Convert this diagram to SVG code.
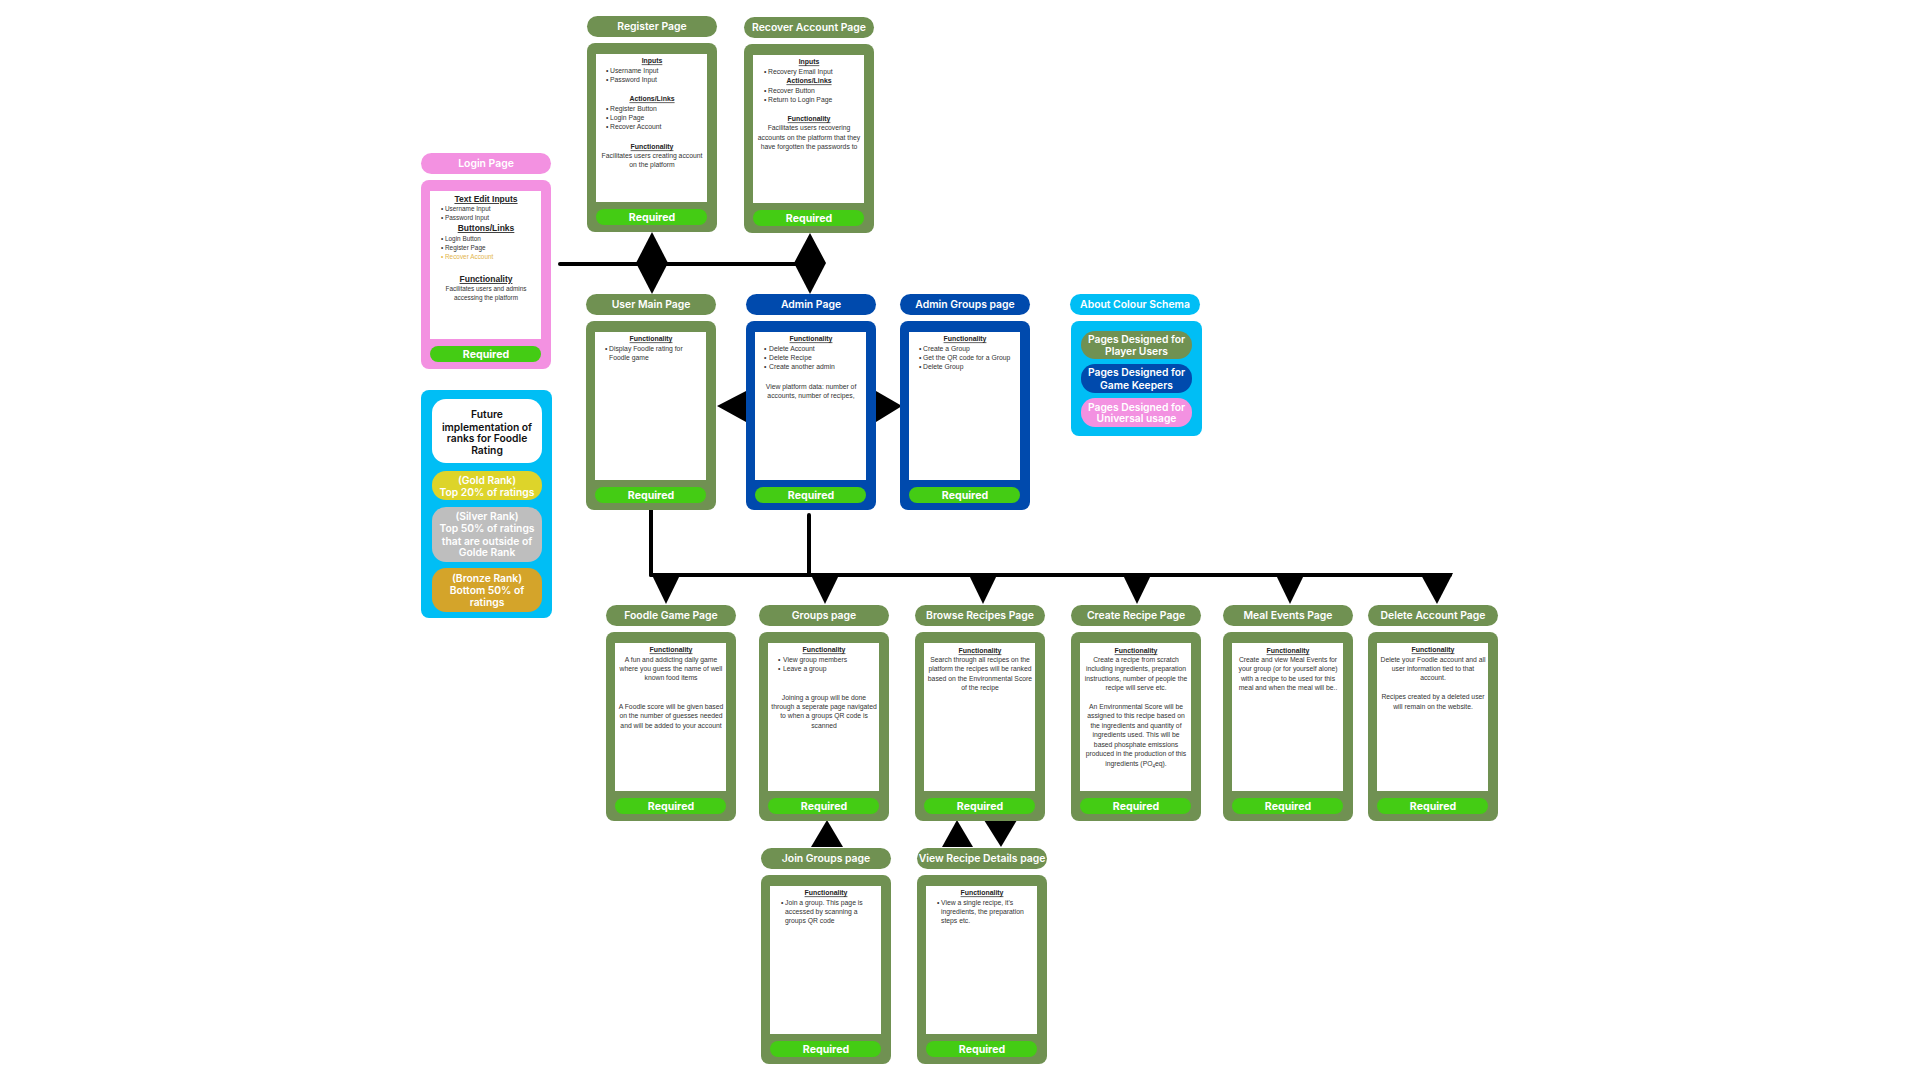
<svg xmlns="http://www.w3.org/2000/svg" xmlns:xlink="http://www.w3.org/1999/xlink" width="1920" height="1080" viewBox="0 0 1920 1080">
<style>
.g{fill:#709152}
.b{fill:#004AAD}
.p{fill:#F391E1}
.s{fill:#00BEF5}
.ttl{font-family:Inter,"Open Sans",sans-serif;font-weight:600;font-size:10.4px;fill:#fff;text-anchor:middle}
.rqt{font-family:Inter,"Open Sans",sans-serif;font-weight:700;font-size:10.6px;fill:#fff;text-anchor:middle}
.h{font-family:"Liberation Sans",Arial,sans-serif;font-weight:700;font-size:6.9px;fill:#222;text-anchor:middle;text-decoration:underline}
.t{font-family:"Liberation Sans",Arial,sans-serif;font-size:6.8px;fill:#333}
.m{text-anchor:middle}
.lh{font-size:8.5px}
.lt{font-size:6.4px}
.gold{fill:#E3B54C}
.chip{font-family:Inter,"Open Sans",sans-serif;font-weight:600;font-size:10.3px;fill:#fff;text-anchor:middle}
.dark{fill:#111}
.wire{stroke:#000;fill:none;stroke-width:4;stroke-linecap:round}
.head{fill:#000}
</style>
<defs>
  <!-- shared page frame: title pill, card, content area and the Required badge -->
  <g id="frame">
    <rect x="0" y="0" width="130" height="21" rx="10.5"/>
    <rect x="0" y="27" width="130" height="189" rx="8"/>
    <rect x="9" y="38" width="111" height="148" fill="#fff"/>
    <rect x="9" y="193" width="111" height="16" rx="8" fill="#44CC14"/>
    <text class="rqt" x="65" y="204.8">Required</text>
  </g>
</defs>
<rect width="1920" height="1080" fill="#fff"/>

<!-- connectors -->
<g id="connectors">
  <path class="wire" d="M560 264 H809"/>
  <polygon class="head" points="652,232 668,263 652,294 636,263"/>
  <polygon class="head" points="810,233 826,263 810,294 794,263"/>
  <polygon class="head" points="717,406 746,391 746,422"/>
  <polygon class="head" points="876,391 902,406 876,422"/>
  <path class="wire" d="M651 510 V575 M809 515 V575" stroke-linecap="butt"/>
  <path class="wire" d="M651 575 H1450" stroke-width="4.5" stroke-linecap="butt"/>
  <polygon class="head" points="651,573 681,573 666,604"/>
  <polygon class="head" points="810,573 840,573 825,604"/>
  <polygon class="head" points="968,573 998,573 983,604"/>
  <polygon class="head" points="1122,573 1152,573 1137,604"/>
  <polygon class="head" points="1275,573 1305,573 1290,604"/>
  <polygon class="head" points="1420,573 1453,573 1437,604"/>
  <polygon class="head" points="811,847 827,820 843,847"/>
  <polygon class="head" points="942,847 957,820 973,847"/>
  <polygon class="head" points="984,820 1017,820 1001,847"/>
</g>

<!-- Login Page -->
<g id="login-page" transform="translate(421,153)">
  <use xlink:href="#frame" class="p"/>
  <text class="ttl" x="65" y="14.1">Login Page</text>
  <text class="h lh" x="65" y="49">Text Edit Inputs</text>
  <text class="t lt" x="20" y="58.3">•<tspan x="24">Username Input</tspan></text>
  <text class="t lt" x="20" y="67.3">•<tspan x="24">Password Input</tspan></text>
  <text class="h lh" x="65" y="78">Buttons/Links</text>
  <text class="t lt" x="20" y="88.3">•<tspan x="24">Login Button</tspan></text>
  <text class="t lt" x="20" y="97.3">•<tspan x="24">Register Page</tspan></text>
  <text class="t lt gold" x="20" y="106.3">•<tspan x="24">Recover Account</tspan></text>
  <text class="h lh" x="65" y="129">Functionality</text>
  <text class="t lt m" x="65" y="138.3">Facilitates users and admins</text>
  <text class="t lt m" x="65" y="147.3">accessing the platform</text>
</g>

<!-- Register Page -->
<g id="register-page" transform="translate(587,16)">
  <use xlink:href="#frame" class="g"/>
  <text class="ttl" x="65" y="14.1">Register Page</text>
  <text class="h" x="65" y="47.4">Inputs</text>
  <text class="t" x="19" y="57.4">•<tspan x="23">Username Input</tspan></text>
  <text class="t" x="19" y="66.4">•<tspan x="23">Password Input</tspan></text>
  <text class="h" x="65" y="85.4">Actions/Links</text>
  <text class="t" x="19" y="95">•<tspan x="23">Register Button</tspan></text>
  <text class="t" x="19" y="104">•<tspan x="23">Login Page</tspan></text>
  <text class="t" x="19" y="113.4">•<tspan x="23">Recover Account</tspan></text>
  <text class="h" x="65" y="133.4">Functionality</text>
  <text class="t m" x="65" y="142.4">Facilitates users creating account</text>
  <text class="t m" x="65" y="151.4">on the platform</text>
</g>

<!-- Recover Account Page -->
<g id="recover-account-page" transform="translate(744,17)">
  <use xlink:href="#frame" class="g"/>
  <text class="ttl" x="65" y="14.1">Recover Account Page</text>
  <text class="h" x="65" y="47.4">Inputs</text>
  <text class="t" x="20" y="57.4">•<tspan x="24">Recovery Email Input</tspan></text>
  <text class="h" x="65" y="66.4">Actions/Links</text>
  <text class="t" x="20" y="76.4">•<tspan x="24">Recover Button</tspan></text>
  <text class="t" x="20" y="85.4">•<tspan x="24">Return to Login Page</tspan></text>
  <text class="h" x="65" y="104.4">Functionality</text>
  <text class="t m" x="65" y="113.4">Facilitates users recovering</text>
  <text class="t m" x="65" y="123.4">accounts on the platform that they</text>
  <text class="t m" x="65" y="132.4">have forgotten the passwords to</text>
</g>

<!-- User Main Page -->
<g id="user-main-page" transform="translate(586,294)">
  <use xlink:href="#frame" class="g"/>
  <text class="ttl" x="65" y="14.1">User Main Page</text>
  <text class="h" x="65" y="47.4">Functionality</text>
  <text class="t" x="19" y="57.1">•<tspan x="23">Display Foodle rating for</tspan></text>
  <text class="t" x="23" y="66.1">Foodle game</text>
</g>

<!-- Admin Page -->
<g id="admin-page" transform="translate(746,294)">
  <use xlink:href="#frame" class="b"/>
  <text class="ttl" x="65" y="14.1">Admin Page</text>
  <text class="h" x="65" y="47.4">Functionality</text>
  <text class="t" x="18" y="57.1">•<tspan x="23">Delete Account</tspan></text>
  <text class="t" x="18" y="66.1">•<tspan x="23">Delete Recipe</tspan></text>
  <text class="t" x="18" y="75.4">•<tspan x="23">Create another admin</tspan></text>
  <text class="t m" x="65" y="95.4">View platform data: number of</text>
  <text class="t m" x="65" y="104.4">accounts, number of recipes,</text>
</g>

<!-- Admin Groups page -->
<g id="admin-groups-page" transform="translate(900,294)">
  <use xlink:href="#frame" class="b"/>
  <text class="ttl" x="65" y="14.1">Admin Groups page</text>
  <text class="h" x="65" y="47.4">Functionality</text>
  <text class="t" x="19" y="57.1">•<tspan x="23">Create a Group</tspan></text>
  <text class="t" x="19" y="66.1">•<tspan x="23">Get the QR code for a Group</tspan></text>
  <text class="t" x="19" y="75.4">•<tspan x="23">Delete Group</tspan></text>
</g>

<!-- About Colour Schema -->
<g id="colour-schema" transform="translate(1070,294)">
  <rect class="s" x="0" y="0" width="130" height="21" rx="10.5"/>
  <text class="ttl" x="65" y="14.1">About Colour Schema</text>
  <rect class="s" x="1" y="27" width="131" height="115" rx="8"/>
  <rect class="g" x="11" y="37" width="111" height="28" rx="14"/>
  <text class="chip" x="66.5" y="48.6">Pages Designed for</text>
  <text class="chip" x="66.5" y="60.6">Player Users</text>
  <rect class="b" x="11" y="70" width="111" height="29" rx="14"/>
  <text class="chip" x="66.5" y="81.6">Pages Designed for</text>
  <text class="chip" x="66.5" y="94.6">Game Keepers</text>
  <rect class="p" x="11" y="104" width="111" height="29" rx="14"/>
  <text class="chip" x="66.5" y="116.6">Pages Designed for</text>
  <text class="chip" x="66.5" y="127.6">Universal usage</text>
</g>

<!-- Foodle rating ranks -->
<g id="rating-ranks" transform="translate(421,390)">
  <rect class="s" x="0" y="0" width="131" height="228" rx="8"/>
  <rect x="11" y="9" width="110" height="64" rx="14" fill="#fff"/>
  <text class="chip dark" x="66" y="27.6">Future</text>
  <text class="chip dark" x="66" y="40.6">implementation of</text>
  <text class="chip dark" x="66" y="51.6">ranks for Foodle</text>
  <text class="chip dark" x="66" y="63.6">Rating</text>
  <rect x="11" y="81" width="110" height="29" rx="14" fill="#DDD42A"/>
  <text class="chip" x="66" y="93.6">(Gold Rank)</text>
  <text class="chip" x="66" y="105.6">Top 20% of ratings</text>
  <rect x="11" y="117" width="110" height="55" rx="14" fill="#BEBEBE"/>
  <text class="chip" x="66" y="129.6">(Silver Rank)</text>
  <text class="chip" x="66" y="141.6">Top 50% of ratings</text>
  <text class="chip" x="66" y="154.6">that are outside of</text>
  <text class="chip" x="66" y="165.6">Golde Rank</text>
  <rect x="11" y="178" width="110" height="44" rx="14" fill="#D4A42A"/>
  <text class="chip" x="66" y="191.6">(Bronze Rank)</text>
  <text class="chip" x="66" y="203.6">Bottom 50% of</text>
  <text class="chip" x="66" y="215.6">ratings</text>
</g>

<!-- Foodle Game Page -->
<g id="foodle-game-page" transform="translate(606,605)">
  <use xlink:href="#frame" class="g"/>
  <text class="ttl" x="65" y="14.1">Foodle Game Page</text>
  <text class="h" x="65" y="47.4">Functionality</text>
  <text class="t m" x="65" y="57.4">A fun and addicting daily game</text>
  <text class="t m" x="65" y="66.4">where you guess the name of well</text>
  <text class="t m" x="65" y="75.4">known food items</text>
  <text class="t m" x="65" y="104.4">A Foodle score will be given based</text>
  <text class="t m" x="65" y="113.4">on the number of guesses needed</text>
  <text class="t m" x="65" y="123.4">and will be added to your account</text>
</g>

<!-- Groups page -->
<g id="groups-page" transform="translate(759,605)">
  <use xlink:href="#frame" class="g"/>
  <text class="ttl" x="65" y="14.1">Groups page</text>
  <text class="h" x="65" y="47.4">Functionality</text>
  <text class="t" x="19" y="57.4">•<tspan x="24">View group members</tspan></text>
  <text class="t" x="19" y="66.4">•<tspan x="24">Leave a group</tspan></text>
  <text class="t m" x="65" y="95.4">Joining a group will be done</text>
  <text class="t m" x="65" y="104.4">through a seperate page navigated</text>
  <text class="t m" x="65" y="113.4">to when a groups QR code is</text>
  <text class="t m" x="65" y="123.4">scanned</text>
</g>

<!-- Browse Recipes Page -->
<g id="browse-recipes-page" transform="translate(915,605)">
  <use xlink:href="#frame" class="g"/>
  <text class="ttl" x="65" y="14.1">Browse Recipes Page</text>
  <text class="h" x="65" y="48.4">Functionality</text>
  <text class="t m" x="65" y="57.4">Search through all recipes on the</text>
  <text class="t m" x="65" y="66.4">platform the recipes will be ranked</text>
  <text class="t m" x="65" y="76.4">based on the Environmental Score</text>
  <text class="t m" x="65" y="85.4">of the recipe</text>
</g>

<!-- Create Recipe Page -->
<g id="create-recipe-page" transform="translate(1071,605)">
  <use xlink:href="#frame" class="g"/>
  <text class="ttl" x="65" y="14.1">Create Recipe Page</text>
  <text class="h" x="65" y="48.4">Functionality</text>
  <text class="t m" x="65" y="57.4">Create a recipe from scratch</text>
  <text class="t m" x="65" y="66.4">including ingredients, preparation</text>
  <text class="t m" x="65" y="76.4">instructions, number of people the</text>
  <text class="t m" x="65" y="85.4">recipe will serve etc.</text>
  <text class="t m" x="65" y="104.4">An Environmental Score will be</text>
  <text class="t m" x="65" y="113.4">assigned to this recipe based on</text>
  <text class="t m" x="65" y="123.4">the ingredients and quantity of</text>
  <text class="t m" x="65" y="132.4">ingredients used. This will be</text>
  <text class="t m" x="65" y="142.4">based phosphate emissions</text>
  <text class="t m" x="65" y="151.4">produced in the production of this</text>
  <text class="t m" x="65" y="161.4">ingredients (PO<tspan font-size="4.6" dy="1.2">4</tspan><tspan dy="-1.2">eq).</tspan></text>
</g>

<!-- Meal Events Page -->
<g id="meal-events-page" transform="translate(1223,605)">
  <use xlink:href="#frame" class="g"/>
  <text class="ttl" x="65" y="14.1">Meal Events Page</text>
  <text class="h" x="65" y="48.4">Functionality</text>
  <text class="t m" x="65" y="57.4">Create and view Meal Events for</text>
  <text class="t m" x="65" y="66.4">your group (or for yourself alone)</text>
  <text class="t m" x="65" y="76.4">with a recipe to be used for this</text>
  <text class="t m" x="65" y="85.4">meal and when the meal will be..</text>
</g>

<!-- Delete Account Page -->
<g id="delete-account-page" transform="translate(1368,605)">
  <use xlink:href="#frame" class="g"/>
  <text class="ttl" x="65" y="14.1">Delete Account Page</text>
  <text class="h" x="65" y="47.4">Functionality</text>
  <text class="t m" x="65" y="57.4">Delete your Foodle account and all</text>
  <text class="t m" x="65" y="66.4">user information tied to that</text>
  <text class="t m" x="65" y="75.4">account.</text>
  <text class="t m" x="65" y="94.4">Recipes created by a deleted user</text>
  <text class="t m" x="65" y="104.4">will remain on the website.</text>
</g>

<!-- Join Groups page -->
<g id="join-groups-page" transform="translate(761,848)">
  <use xlink:href="#frame" class="g"/>
  <text class="ttl" x="65" y="14.1">Join Groups page</text>
  <text class="h" x="65" y="47.4">Functionality</text>
  <text class="t" x="20" y="57.4">•<tspan x="24">Join a group. This page is</tspan></text>
  <text class="t" x="24" y="66.4">accessed by scanning a</text>
  <text class="t" x="24" y="75.4">groups QR code</text>
</g>

<!-- View Recipe Details page -->
<g id="view-recipe-details-page" transform="translate(917,848)">
  <use xlink:href="#frame" class="g"/>
  <text class="ttl" x="65" y="14.1">View Recipe Details page</text>
  <text class="h" x="65" y="47.4">Functionality</text>
  <text class="t" x="20" y="57.4">•<tspan x="24">View a single recipe, it's</tspan></text>
  <text class="t" x="24" y="66.4">ingredients, the preparation</text>
  <text class="t" x="24" y="75.4">steps etc.</text>
</g>
</svg>
